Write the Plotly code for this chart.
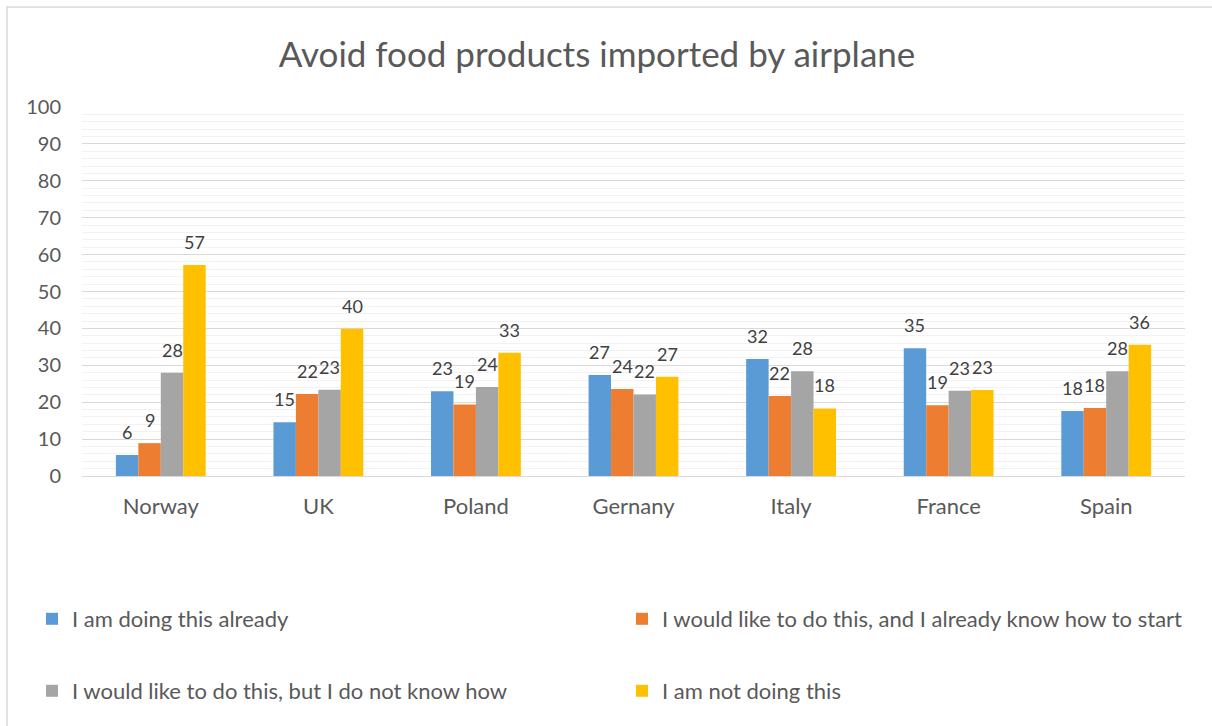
import plotly.graph_objects as go

# Countries on the x axis (spelling kept as in the source chart)
countries = ['Norway', 'UK', 'Poland', 'Gernany', 'Italy', 'France', 'Spain']

# Answers, one list per series (percent)
doing_already = [5.7, 14.6, 23.0, 27.4, 31.7, 34.6, 17.6]
like_know_start = [8.9, 22.2, 19.4, 23.6, 21.7, 19.2, 18.4]
like_not_know = [28.0, 23.4, 24.1, 22.1, 28.4, 23.1, 28.4]
not_doing = [57.2, 39.9, 33.4, 26.9, 18.3, 23.3, 35.6]

series_names = [
    'I am doing this already',
    'I would like to do this, and I already know how to start',
    'I would like to do this, but I do not know how',
    'I am not doing this',
]
series_values = [doing_already, like_know_start, like_not_know, not_doing]
colors = ['#5b9bd5', '#ed7d31', '#a5a5a5', '#ffc000']

FONT = 'Lato, Open Sans, sans-serif'
W, H = 1212, 726
ML, MR, MT, MB = 82, 27, 107, 250
BARGAP = 0.43

# pixel width of one bar, used to put each value label over its bar
plot_w = W - ML - MR
bar_px = plot_w / len(countries) * (1 - BARGAP) / len(series_names)

# one legend per series so the 2x2 layout below the chart can be matched
legend_ids = ['legend', 'legend2', 'legend3', 'legend4']
legend_pos = [(32, 619), (622, 619), (32, 691), (622, 691)]

fig = go.Figure()
annotations = []
for i, (name, vals, col) in enumerate(zip(series_names, series_values, colors)):
    fig.add_trace(go.Bar(
        x=countries, y=vals, name=name,
        marker=dict(color=col, line=dict(width=0)),
        legend=legend_ids[i], showlegend=True,
    ))
    offset = (i - (len(series_names) - 1) / 2) * bar_px
    for c, v in zip(countries, vals):
        annotations.append(dict(
            x=c, y=v, text=f'{v:.0f}', showarrow=False,
            xanchor='center', yanchor='middle', xshift=offset, yshift=23,
            font=dict(size=18, color='#404040', family=FONT),
        ))

layout_legends = {}
for lid, (px, py) in zip(legend_ids, legend_pos):
    layout_legends[lid] = dict(
        orientation='h', xref='container', yref='container',
        x=px / W, y=1 - py / H, xanchor='left', yanchor='middle',
        font=dict(size=22, color='#595959', family=FONT),
        bgcolor='rgba(0,0,0,0)',
    )

fig.update_layout(
    width=W, height=H, showlegend=True,
    paper_bgcolor='white', plot_bgcolor='white',
    font=dict(family=FONT, color='#595959'),
    title=dict(text='Avoid food products imported by airplane',
               xref='container', x=597 / W, xanchor='center',
               y=1 - 55 / H, yanchor='middle',
               font=dict(size=35, color='#595959', family=FONT)),
    margin=dict(l=ML, r=MR, t=MT, b=MB),
    barmode='group', bargap=BARGAP, bargroupgap=0,
    xaxis=dict(showgrid=False, showline=False, ticks='',
               tickfont=dict(size=22, color='#595959'),
               ticklabelstandoff=15),
    yaxis=dict(range=[0, 100], dtick=10, showline=False, ticks='',
               gridcolor='#d9d9d9', gridwidth=1,
               zeroline=True, zerolinecolor='#d9d9d9', zerolinewidth=1,
               minor=dict(dtick=2, showgrid=True, gridcolor='#f2f2f2', gridwidth=1),
               tickfont=dict(size=20, color='#595959'),
               ticklabelstandoff=20),
    annotations=annotations,
    shapes=[dict(type='rect', xref='paper', yref='paper',
                 x0=(7 - ML) / plot_w, x1=(W + 5 - ML) / plot_w,
                 y0=-(MB + 5) / (H - MT - MB), y1=1 + (MT - 7) / (H - MT - MB),
                 line=dict(color='#d9d9d9', width=1.5), fillcolor='rgba(0,0,0,0)',
                 layer='below')],
    **layout_legends,
)

# drop the page's default body margin so the figure sits at the window's corner
fig.write_html('out.html', config={'displayModeBar': False},
               post_script="document.body.style.margin='0';")
